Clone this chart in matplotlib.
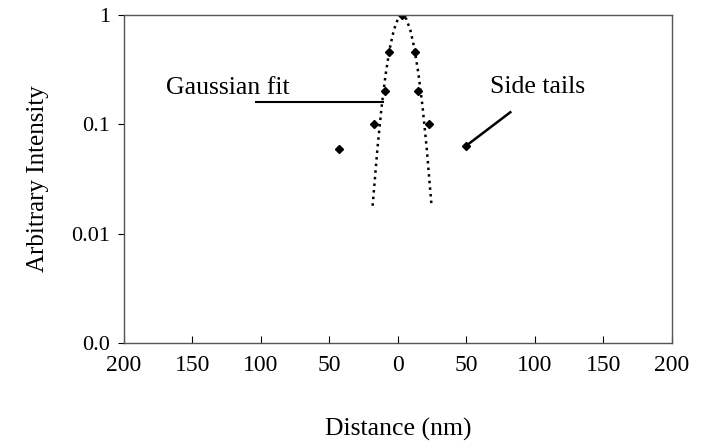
import matplotlib
matplotlib.use('Agg')
import matplotlib.pyplot as plt
from matplotlib.ticker import FixedLocator, NullLocator

plt.rcParams['font.family'] = ['Liberation Serif', 'DejaVu Serif']

# measured intensity profile (diamonds)
dist_pts = [-43, -17.5, -9.5, -6.6, 3, 12.4, 14.6, 23, 50]
inten_pts = [0.060, 0.100, 0.200, 0.46, 1.0, 0.46, 0.200, 0.100, 0.064]

# Gaussian fit curve
fit_x = [-18.5, -15, -12, -9, -6, -3, 0, 3, 6, 9, 12, 15, 18, 21, 24.5]
fit_y = [0.018, 0.060, 0.143, 0.287, 0.496, 0.73, 0.925, 1.0,
         0.925, 0.73, 0.496, 0.287, 0.143, 0.060, 0.018]

x_ticks = [-200, -150, -100, -50, 0, 50, 100, 150, 200]
x_labels = ['200', '150', '100', '50', '0', '50', '100', '150', '200']
y_ticks = [0.001, 0.01, 0.1, 1]
y_labels = ['0.0', '0.01', '0.1', '1']

fig = plt.figure(figsize=(7.07, 4.42), dpi=100)
ax = fig.add_axes([0.1754, 0.224, 0.775, 0.742])

ax.plot(fit_x, fit_y, linestyle=':', color='black', linewidth=1.8)
ax.plot(dist_pts, inten_pts, linestyle='none', marker='D', markersize=4,
        color='black')

ax.set_yscale('log')
ax.set_xlim(-200, 200)
ax.set_ylim(0.001, 1)
ax.yaxis.set_major_locator(FixedLocator(y_ticks))
ax.yaxis.set_minor_locator(NullLocator())
ax.set_yticklabels(y_labels)
ax.set_xticks(x_ticks)
ax.set_xticklabels(x_labels)

ax.tick_params(axis='x', direction='in', length=5, pad=9, labelsize=17)
ax.tick_params(axis='y', direction='out', length=4, pad=6, labelsize=16)

for side in ['top', 'right', 'left', 'bottom']:
    ax.spines[side].set_color('#555555')
    ax.spines[side].set_linewidth(1.0)

ax.set_xlabel('Distance (nm)', fontsize=18.5, labelpad=30)
ax.set_ylabel('Arbitrary Intensity', fontsize=18, labelpad=16)

# annotations
ax.text(-169, 0.214, 'Gaussian fit', fontsize=18.5, va='center', ha='left')
ax.plot([-104, -11], [0.16, 0.16], color='black', linewidth=1.5)
ax.text(67, 0.218, 'Side tails', fontsize=18.5, va='center', ha='left')
ax.plot([50, 82], [0.064, 0.129], color='black', linewidth=1.8)

plt.savefig('out.png', dpi=100)
